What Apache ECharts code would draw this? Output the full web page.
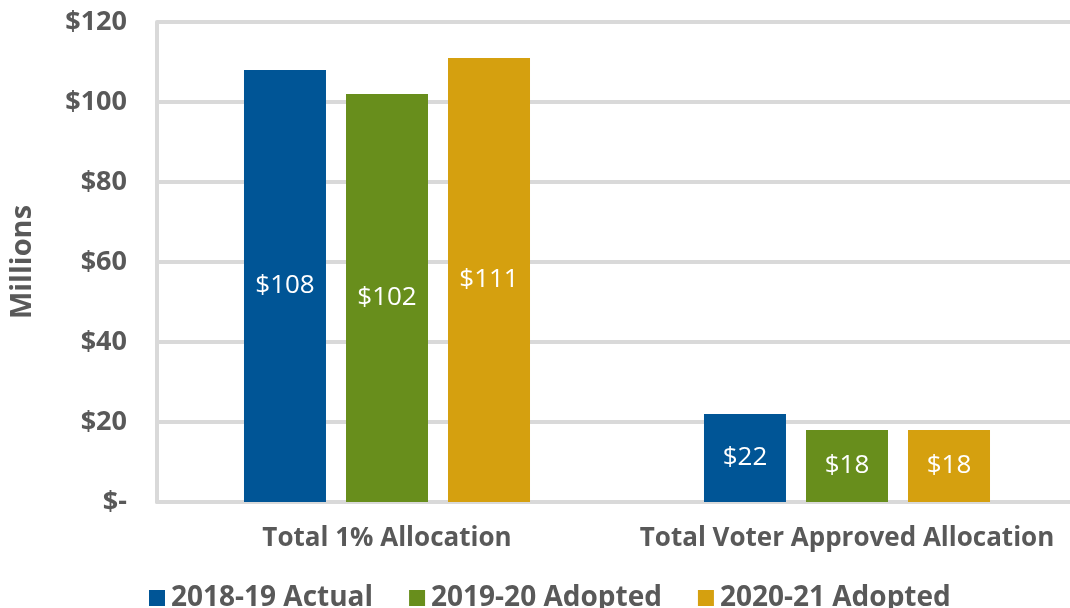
<!DOCTYPE html>
<html>
<head>
<meta charset="utf-8">
<script src="https://cdn.jsdelivr.net/npm/echarts@6/dist/echarts.min.js"></script>
<style>
  *{margin:0;padding:0}
  body{background:#fff}
  #c{width:1070px;height:608px}
</style>
</head>
<body>
<div id="c"></div>
<script>
  // ── 数据 ──
  const categories = ['Total 1% Allocation', 'Total Voter Approved Allocation'];
  const seriesNames = ['2018-19 Actual', '2019-20 Adopted', '2020-21 Adopted'];
  const actual1819  = [108, 22];
  const adopted1920 = [102, 18];
  const adopted2021 = [111, 18];
  const yTicks = [0, 20, 40, 60, 80, 100, 120];

  // ── 样式 ──
  const TXT = '#595959';
  const COLORS = ['#005596', '#688E1C', '#D5A00F'];
  const FONT = '"Open Sans", Lato, sans-serif';

  const values = [actual1819, adopted1920, adopted2021];

  const chart = echarts.init(document.getElementById('c'));
  chart.setOption({
    animation: false,
    textStyle: { fontFamily: FONT },
    // 网格右端超出画布（参考图如此），关掉 v6 的 outerBounds 收缩
    grid: { left: 157, top: 22, width: 920, height: 480, containLabel: false, outerBoundsMode: 'none' },
    legend: {
      left: 144, top: 579,
      itemWidth: 16, itemHeight: 16, itemGap: 36,
      icon: 'rect',
      textStyle: { color: TXT, fontSize: 28, fontWeight: 'bold', fontFamily: FONT, padding: [0, 0, 0, 1] },
      data: seriesNames
    },
    xAxis: {
      type: 'category',
      data: categories,
      axisLine: { lineStyle: { color: '#D9D9D9', width: 4 } },
      axisTick: { show: false },
      axisLabel: { color: TXT, fontSize: 26, fontWeight: 'bold', margin: 24, fontFamily: FONT, interval: 0, hideOverlap: false }
    },
    yAxis: {
      type: 'value',
      min: yTicks[0], max: yTicks[yTicks.length - 1], interval: 20,
      name: 'Millions',
      nameLocation: 'middle',
      nameGap: 120,
      nameTextStyle: { color: TXT, fontSize: 29, fontWeight: 'bold', fontFamily: FONT },
      axisLine: { show: true, lineStyle: { color: '#D9D9D9', width: 4 } },
      axisTick: { show: false },
      splitLine: { lineStyle: { color: '#D9D9D9', width: 4 } },
      axisLabel: {
        color: TXT, fontSize: 27, fontWeight: 'bold', margin: 30, fontFamily: FONT,
        formatter: v => v === 0 ? '$-' : '$' + v
      }
    },
    series: seriesNames.map((n, i) => ({
      name: n,
      type: 'bar',
      data: values[i],
      barWidth: 82,
      barGap: '24.4%',
      itemStyle: { color: COLORS[i] },
      label: {
        show: true, position: 'inside', color: '#fff', fontSize: 26, fontFamily: FONT,
        formatter: p => '$' + p.value
      }
    }))
  });
</script>
</body>
</html>
